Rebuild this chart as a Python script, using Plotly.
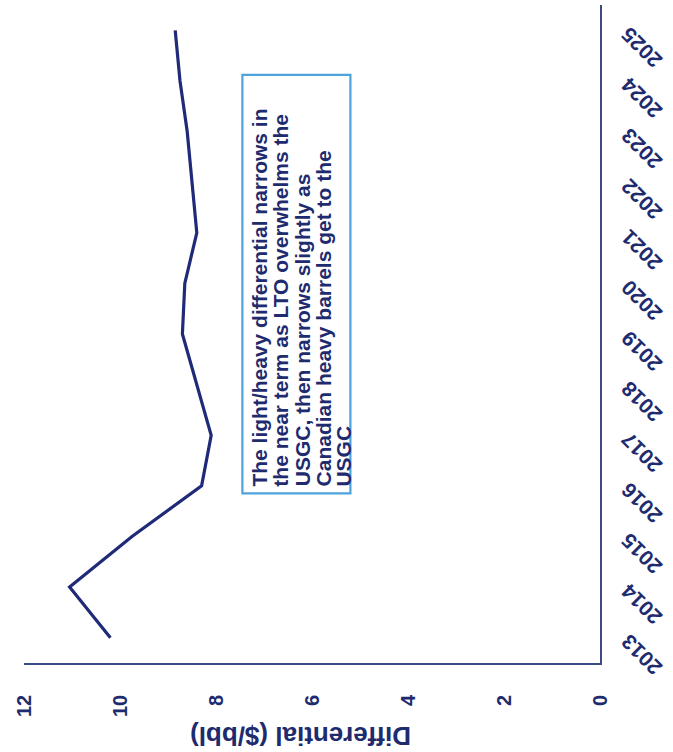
import plotly.graph_objects as go

# Light/heavy crude differential outlook, 2013-2025
years = [2013, 2014, 2015, 2016, 2017, 2018, 2019, 2020, 2021, 2022, 2023, 2024, 2025]
differential = [10.2, 11.05, 9.75, 8.3, 8.1, 8.4, 8.7, 8.65, 8.4, 8.5, 8.6, 8.75, 8.85]
value_ticks = [0, 2, 4, 6, 8, 10, 12]
note_lines = [
    "The light/heavy differential narrows in",
    "the near term as LTO overwhelms the",
    "USGC, then narrows slightly as",
    "Canadian heavy barrels get to the",
    "USGC",
]

NAVY = "#1f2a78"
TEXT = "#1e2b6e"
AXIS = "#3c4a86"
BOX = "#4da3dc"
FONT = "Liberation Sans, Arial, sans-serif"

fig = go.Figure()
fig.add_trace(go.Scatter(
    x=differential, y=years, mode="lines",
    line=dict(color=NAVY, width=3.2),
    hoverinfo="skip", showlegend=False,
))

# Value axis runs along the bottom, high values on the left
fig.update_xaxes(
    range=[12, 0], tickvals=value_ticks, tickangle=-90,
    showgrid=False, zeroline=False, showline=True, linecolor=AXIS, linewidth=1.5,
    ticks="", ticklabelstandoff=22,
    tickfont=dict(family=FONT, size=20, color=TEXT, weight="bold"),
)
# Year axis on the right, labels slanted
fig.update_yaxes(
    range=[2012.5, 2025.5], tickvals=years, tickangle=-135, side="right",
    showgrid=False, zeroline=False, showline=True, linecolor=AXIS, linewidth=1.5,
    ticks="", ticklabelstandoff=50, ticklabelshift=39,
    tickfont=dict(family=FONT, size=21, color=TEXT, weight="bold"),
)

# Commentary box
fig.add_shape(type="rect", xref="x", yref="y",
              x0=7.45, x1=5.2, y0=2015.85, y1=2024.12,
              line=dict(color=BOX, width=2.2), fillcolor="rgba(0,0,0,0)")
line_x = [7.1, 6.65, 6.2, 5.77, 5.34]
for txt, lx in zip(note_lines, line_x):
    fig.add_annotation(
        x=lx, y=2015.95, xref="x", yref="y", text=txt, showarrow=False,
        textangle=-90, xanchor="center", yanchor="bottom",
        font=dict(family=FONT, size=21, color=TEXT, weight="bold"),
    )

# Value axis title
fig.add_annotation(
    x=0.481, y=-0.111, xref="paper", yref="paper", text="Differential ($/bbl)",
    showarrow=False, textangle=180, xanchor="center", yanchor="middle",
    font=dict(family=FONT, size=26, color=TEXT, weight="bold"),
)

fig.update_layout(
    width=673, height=752,
    margin=dict(l=24, r=73, t=5, b=89),
    paper_bgcolor="white", plot_bgcolor="white",
)

fig.write_html("out.html")
